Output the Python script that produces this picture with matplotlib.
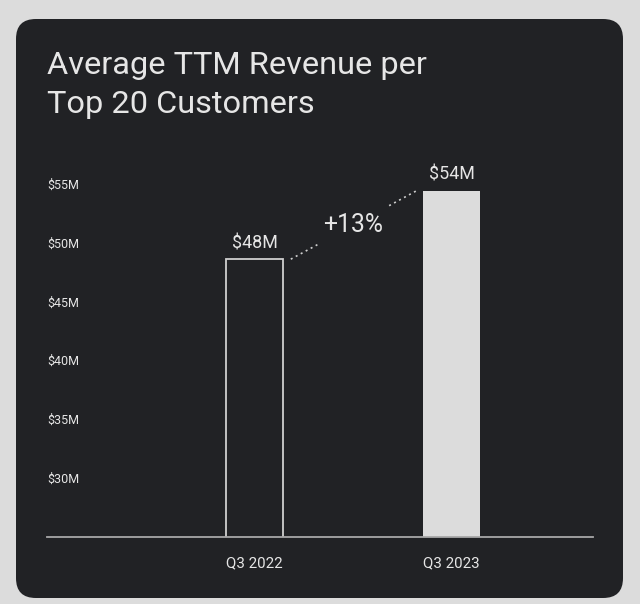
import numpy as np
import matplotlib.pyplot as plt
from matplotlib.patches import FancyBboxPatch

quarters = ['Q3 2022', 'Q3 2023']
revenue = [48.6, 54.4]          # $M
value_labels = ['$48M', '$54M']
growth_label = '+13%'
yticks = [30, 35, 40, 45, 50, 55]

BG = '#dcdcdc'
CARD = '#212225'
TXT = '#e6e6e6'
FONT = ['Roboto', 'DejaVu Sans']

plt.rcParams['font.family'] = FONT

fig = plt.figure(figsize=(6.4, 6.04), dpi=100)
fig.patch.set_facecolor(BG)

# rounded dark card
card = FancyBboxPatch((16 / 640, 6 / 604), 607 / 640, 579 / 604,
                      boxstyle='round,pad=0,rounding_size=0.031',
                      mutation_aspect=640 / 604,
                      transform=fig.transFigure, facecolor=CARD,
                      edgecolor='none', zorder=-5)
fig.patches.append(card)

fig.text(47 / 640, 1 - 74 / 604, 'Average TTM Revenue per', color=TXT,
         fontsize=23.4, va='baseline', ha='left')
fig.text(47 / 640, 1 - 113 / 604, 'Top 20 Customers', color=TXT,
         fontsize=23.4, va='baseline', ha='left')

ax = fig.add_axes([47 / 640, 1 - 536.7 / 604, 545.7 / 640, 376.3 / 604])
ax.set_facecolor('none')

x = np.arange(len(quarters))
w = 0.29
ax.bar(x[0], revenue[0], width=w, facecolor=CARD, edgecolor='#cfcfcf',
       linewidth=1.3, zorder=2)
ax.bar(x[1], revenue[1], width=w, facecolor='#dcdcdc', edgecolor='none',
       zorder=2)

for xi, v, lab in zip(x, revenue, value_labels):
    ax.annotate(lab, (xi, v), xytext=(0, 8), textcoords='offset points',
                ha='center', va='baseline', color=TXT, fontsize=12.9)

# dotted connector with a gap for the growth label
def on_line(t):
    return revenue[0] + (revenue[1] - revenue[0]) * (t - 0.184) / (0.82 - 0.184)

for a, b in [(0.184, 0.319), (0.683, 0.82)]:
    ax.plot([a, b], [on_line(a), on_line(b)], color='#cfcfcf', lw=1.2,
            linestyle=(0, (1.2, 2.2)), zorder=3)
ax.text(0.5, 51.5, growth_label, ha='center', va='center', color=TXT,
        fontsize=17.8)

ax.set_xlim(-1.053, 1.716)
ax.set_ylim(25, 57)

ax.set_yticks(yticks)
ax.set_yticklabels([f'${t}M' for t in yticks])
ax.tick_params(axis='y', length=0, pad=0, labelsize=9, labelcolor=TXT)
for lab in ax.get_yticklabels():
    lab.set_horizontalalignment('left')

ax.set_xticks(x)
ax.set_xticklabels(quarters)
ax.tick_params(axis='x', length=0, pad=14, labelsize=10.8, labelcolor=TXT)

for s in ['top', 'right', 'left']:
    ax.spines[s].set_visible(False)
ax.spines['bottom'].set_color('#a8a8a8')
ax.spines['bottom'].set_linewidth(1.3)
ax.spines['bottom'].set_zorder(4)

fig.savefig('out.png', dpi=100, facecolor=BG)
